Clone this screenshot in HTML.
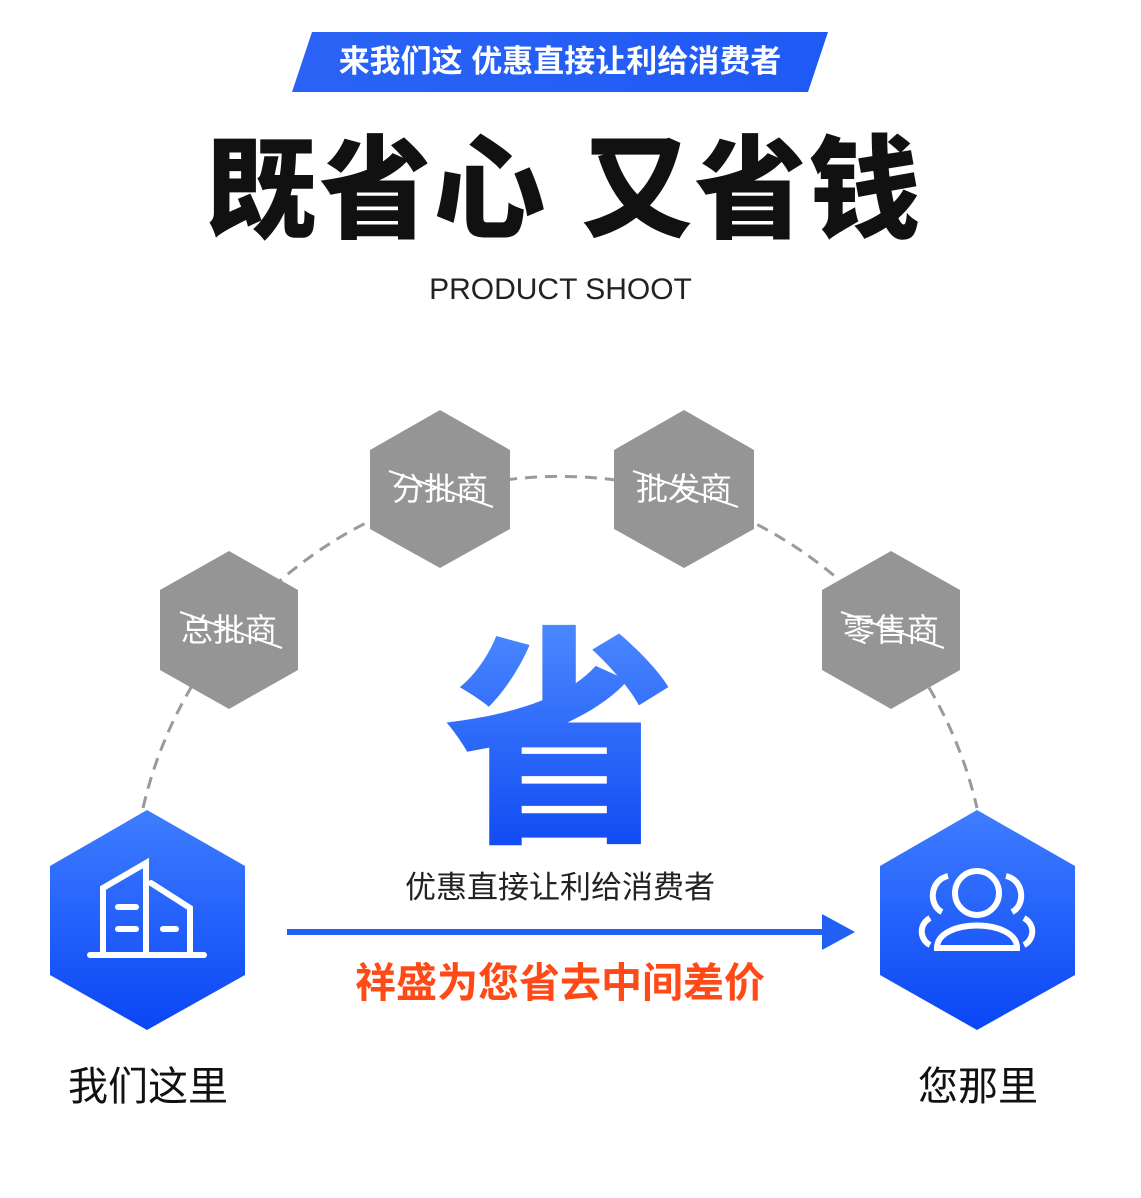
<!DOCTYPE html>
<html><head><meta charset="utf-8"><style>
body{margin:0;width:1141px;height:1198px;background:#fff;position:relative;overflow:hidden;font-family:"Liberation Sans","Noto Sans CJK SC",sans-serif}
.a{position:absolute;white-space:nowrap}
</style></head><body>
<svg class="a" style="left:0;top:0" width="1141" height="1198">
<defs>
<linearGradient id="b" x1="0" y1="0" x2="0" y2="1"><stop offset="0" stop-color="#3f7dff"/><stop offset="1" stop-color="#0a46f5"/></linearGradient>
<linearGradient id="bn" x1="0" y1="0" x2="1" y2="0"><stop offset="0" stop-color="#2a63f5"/><stop offset="1" stop-color="#1f5af5"/></linearGradient>
</defs>
<polygon points="312,32 828,32 808,92 292,92" fill="url(#bn)"/>
<path d="M143,808 A428,428 0 0 1 977,808" fill="none" stroke="#9a9a9a" stroke-width="3" stroke-dasharray="12,8"/>
<g fill="#959595">
<polygon points="229,551 298,590 298,670 229,709 160,670 160,590"/>
<polygon points="440,410 510,450 510,529 440,568 370,529 370,450"/>
<polygon points="684,410 754,450 754,529 684,568 614,529 614,450"/>
<polygon points="891,551 960,590 960,670 891,709 822,670 822,590"/>
</g>
<g stroke="#fff" stroke-width="2">
<line x1="180" y1="612" x2="282" y2="648"/>
<line x1="389" y1="471" x2="493" y2="507"/>
<line x1="633" y1="471" x2="738" y2="507"/>
<line x1="841" y1="612" x2="944" y2="648"/>
</g>
<polygon points="147,810 245,866 245,975 147,1030 50,975 50,866" fill="url(#b)"/>
<polygon points="977,810 1075,866 1075,975 977,1030 880,975 880,866" fill="url(#b)"/>
<g stroke="#fff" stroke-width="6" fill="none" stroke-linecap="round">
<path d="M90,955 H204"/>
<path d="M103,952 V888 L146,863 V952"/>
<path d="M151,883 L190,908 V952"/>
<path d="M118,907 H136 M118,929 H136 M163,929 H176"/>
</g>
<g stroke="#fff" stroke-width="6" fill="none">
<circle cx="977" cy="893" r="22"/>
<path d="M937,948 C937,918 1017,918 1017,948 Z"/>
<path d="M948,876 C930,880 928,905 942,912 M1006,876 C1024,880 1026,905 1012,912"/>
<path d="M930,945 C920,940 918,925 930,918 M1024,945 C1034,940 1036,925 1024,918"/>
</g>
<line x1="287" y1="932" x2="825" y2="932" stroke="#2060f5" stroke-width="6"/>
<polygon points="822,914 855,932 822,950" fill="#2060f5"/>
</svg>
<div class="a" style="left:292px;width:536px;top:40px;text-align:center;color:#fff;font-size:31px;font-weight:bold;line-height:44px">来我们这 优惠直接让利给消费者</div>
<div class="a" style="left:0;width:1128px;top:126px;text-align:center;color:#111;font-size:112px;font-weight:900;line-height:130px;letter-spacing:2px">既省心 又省钱</div>
<div class="a" style="left:0;width:1121px;top:272px;text-align:center;color:#222;font-size:30px;line-height:36px">PRODUCT SHOOT</div>
<div class="a" style="left:164px;width:130px;top:610px;text-align:center;color:#fff;font-size:32px;line-height:40px">总批商</div>
<div class="a" style="left:375px;width:130px;top:469px;text-align:center;color:#fff;font-size:32px;line-height:40px">分批商</div>
<div class="a" style="left:619px;width:130px;top:469px;text-align:center;color:#fff;font-size:32px;line-height:40px">批发商</div>
<div class="a" style="left:826px;width:130px;top:610px;text-align:center;color:#fff;font-size:32px;line-height:40px">零售商</div>
<div class="a" style="left:410px;width:300px;top:614px;text-align:center;font-size:232px;font-weight:900;line-height:260px;color:#1f5cf5;background:linear-gradient(#4d8bff,#0a44f2);-webkit-background-clip:text;-webkit-text-fill-color:transparent">省</div>
<div class="a" style="left:340px;width:440px;top:869px;text-align:center;color:#222;font-size:31px;line-height:38px">优惠直接让利给消费者</div>
<div class="a" style="left:300px;width:520px;top:959px;text-align:center;color:#ff4a17;font-size:41px;font-weight:bold;line-height:48px">祥盛为您省去中间差价</div>
<div class="a" style="left:68px;top:1063px;color:#111;font-size:40px;line-height:48px">我们这里</div>
<div class="a" style="left:918px;top:1063px;color:#111;font-size:40px;line-height:48px">您那里</div>
</body></html>
